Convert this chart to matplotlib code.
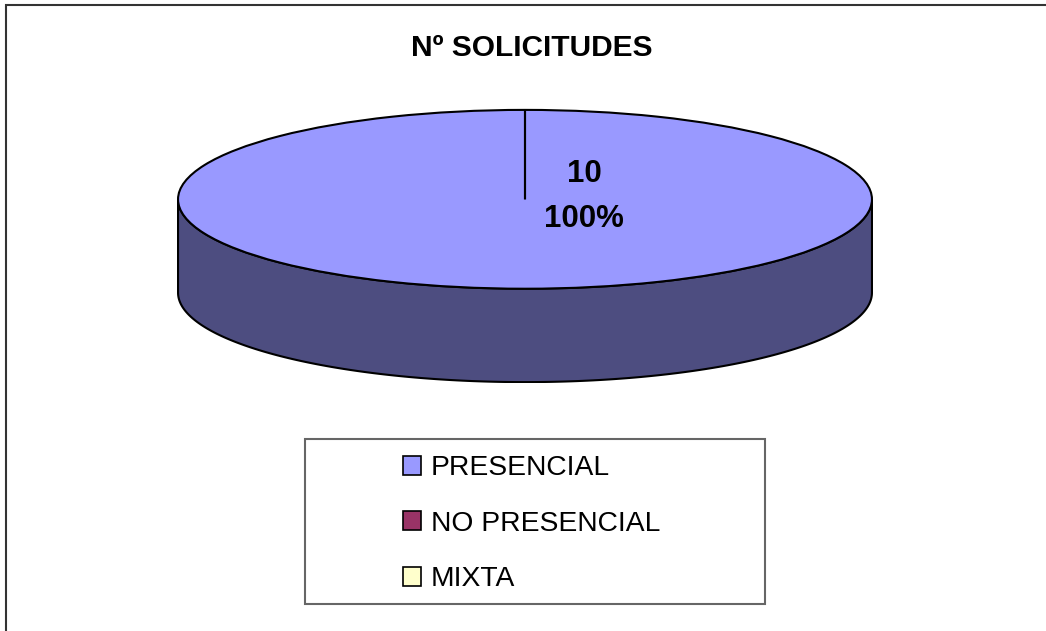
import numpy as np
import matplotlib.pyplot as plt
from matplotlib.patches import Polygon, Rectangle

plt.rcParams['font.family'] = ['Liberation Sans', 'DejaVu Sans']

# data
categories = ['PRESENCIAL', 'NO PRESENCIAL', 'MIXTA']
solicitudes = [10, 0, 0]
colors = ['#9999FF', '#993366', '#FFFFCC']
side_colors = ['#4D4D80', '#4D1A33', '#808066']

W, H = 1046, 631
fig = plt.figure(figsize=(W / 100, H / 100), dpi=100)

# outer chart border
fig.patches.append(Rectangle((6 / W, -0.05), 1.1, 1 - 5 / H + 0.05, transform=fig.transFigure,
                             fill=False, edgecolor='#333333', linewidth=1.5))

# pie axes: ellipse spans x 177..873, top at y 109, side bottom at y 383
depth = 94 / 90
ax = fig.add_axes([177 / W, 1 - 383 / H, 696 / W, 274 / H])
wedges, _ = ax.pie(solicitudes, colors=colors, startangle=90, counterclock=False,
                   wedgeprops=dict(edgecolor='black', linewidth=1.5))
for w in wedges:
    w.set_zorder(3)
ax.set_aspect('auto')
ax.set_xlim(-1.003, 1.003)
ax.set_ylim(-1 - depth - 0.01, 1.01)
ax.axis('off')

# 3D side: front half of each wedge, extruded downwards
for w, sc in zip(wedges, side_colors):
    span = abs(w.theta2 - w.theta1)
    if span == 0:
        continue
    if span >= 360:
        t1, t2 = 0, 360
    else:
        t1, t2 = sorted([w.theta1 % 360, w.theta2 % 360])
    lo, hi = max(t1, 180), min(t2, 360)
    if hi <= lo:
        continue
    t = np.radians(np.linspace(lo, hi, 200))
    top = np.column_stack([np.cos(t), np.sin(t)])
    bot = np.column_stack([np.cos(t[::-1]), np.sin(t[::-1]) - depth])
    ax.add_patch(Polygon(np.vstack([top, bot]), closed=True, facecolor=sc,
                         edgecolor='black', linewidth=1.5, zorder=2))

# data label
total = sum(solicitudes)
ax.text(0.17, 0.03, f'{solicitudes[0]}\n{solicitudes[0] / total:.0%}', ha='center', va='center',
        fontsize=22.5, fontweight='bold', linespacing=1.65, zorder=5)

fig.text(532 / W, 1 - 48 / H, 'Nº SOLICITUDES', ha='center', va='center',
         fontsize=21.5, fontweight='bold')

# legend box
fig.patches.append(Rectangle((305 / W, 1 - 604 / H), 460 / W, 165 / H, transform=fig.transFigure,
                             fill=False, edgecolor='#666666', linewidth=1.5))
handles = [Rectangle((0, 0), 1, 1, facecolor=c, edgecolor='black', linewidth=1.2) for c in colors]
fig.legend(handles, categories, loc='upper left', bbox_to_anchor=(403 / W, 1 - 455 / H),
           frameon=False, fontsize=20.3, handlelength=0.65, handleheight=0.65,
           handletextpad=0.33, labelspacing=1.05, borderpad=0, borderaxespad=0)

fig.savefig('out.png', dpi=100)
